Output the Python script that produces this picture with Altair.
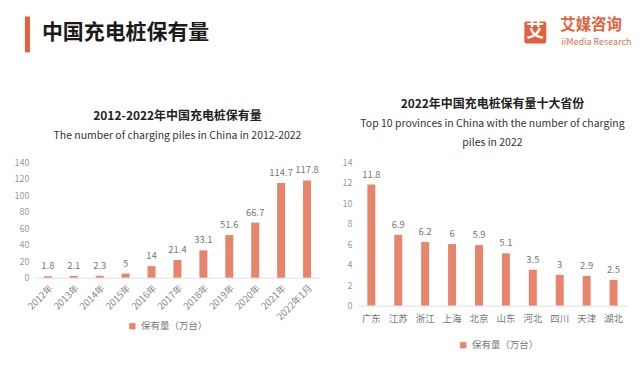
import altair as alt
import pandas as pd

FONT = "Noto Sans CJK SC"
BAR = "#E9846C"
ORANGE = "#E5603A"

# ---- data ----
years = ["2012年", "2013年", "2014年", "2015年", "2016年", "2017年",
         "2018年", "2019年", "2020年", "2021年", "2022年1月"]
year_values = [1.8, 2.1, 2.3, 5, 14, 21.4, 33.1, 51.6, 66.7, 114.7, 117.8]

provinces = ["广东", "江苏", "浙江", "上海", "北京", "山东", "河北", "四川", "天津", "湖北"]
province_values = [11.8, 6.9, 6.2, 6, 5.9, 5.1, 3.5, 3, 2.9, 2.5]

series_name = "保有量（万台）"
left_ticks = [0, 20, 40, 60, 80, 100, 120, 140]
right_ticks = [0, 2, 4, 6, 8, 10, 12, 14]

header_title = "中国充电桩保有量"
logo_char = "艾"
logo_cn_text = "艾媒咨询"
logo_en_text = "iiMedia Research"
left_title = "2012-2022年中国充电桩保有量"
left_subtitle = "The number of charging piles in China in 2012-2022"
right_title = "2022年中国充电桩保有量十大省份"
right_subtitle = ["Top 10 provinces in China with the number of charging", "piles in 2022"]


def text_layer(label, x, y, **kw):
    return alt.Chart(pd.DataFrame({"t": [label]})).mark_text(font=FONT, **kw).encode(
        x=alt.value(x), y=alt.value(y), text="t:N")


# ---- header (positions relative to the left plot's left edge) ----
hdr = alt.Chart(pd.DataFrame({"k": [0]}))
hdr_bar = hdr.mark_rect(color=ORANGE).encode(
    x=alt.value(-10), x2=alt.value(-5), y=alt.value(8), y2=alt.value(44))
logo_sq = hdr.mark_rect(color=ORANGE, cornerRadius=2).encode(
    x=alt.value(491), x2=alt.value(513), y=alt.value(13), y2=alt.value(35))
hdr_text = text_layer(header_title, 7, 25, align="left", baseline="middle", fontSize=21,
                      fontWeight="bold", color="#1a1a1a")
logo_ch = text_layer(logo_char, 502, 24, align="center", baseline="middle", fontSize=18,
                     fontWeight="bold", color="white")
logo_cn = text_layer(logo_cn_text, 527, 17, align="left", baseline="middle", fontSize=15.5,
                     fontWeight="bold", color=ORANGE)
logo_en = text_layer(logo_en_text, 528, 33.5, align="left", baseline="middle", fontSize=9,
                     color="#D8704F")
header = alt.layer(hdr_bar, logo_sq, hdr_text, logo_ch, logo_cn, logo_en).properties(
    width=590, height=80)

# ---- left chart ----
df1 = pd.DataFrame({"year": years, "value": year_values, "series": series_name})
b1 = alt.Chart(df1)
x1 = alt.X("year:N", sort=years, title=None,
           scale=alt.Scale(paddingInner=0, paddingOuter=0),
           axis=alt.Axis(labelAngle=-45, labelFont=FONT, labelFontSize=9.5, labelColor="#888",
                         ticks=False, domainColor="#e0e0e0", labelPadding=5))
y1 = alt.Y("value:Q", title=None, scale=alt.Scale(domain=[0, 140]),
           axis=alt.Axis(values=left_ticks, grid=False, domain=False, ticks=False,
                         labelFont=FONT, labelFontSize=9, labelColor="#999",
                         labelPadding=6, minExtent=27))
bars1 = b1.mark_bar(size=8).encode(
    x=x1, y=y1,
    color=alt.Color("series:N", scale=alt.Scale(range=[BAR]),
                    legend=alt.Legend(orient="none", legendX=93, legendY=160, title=None,
                                      direction="horizontal", symbolType="square",
                                      symbolSize=40, symbolStrokeWidth=0, padding=0,
                                      labelFont=FONT, labelFontSize=9.5, labelColor="#777")))
text1 = b1.mark_text(dy=-10, font=FONT, fontSize=9.5, color="#777").encode(
    x=x1, y=y1, text=alt.Text("value:Q", format="~g"))
left = alt.layer(bars1, text1).properties(
    width=286, height=116,
    title=alt.TitleParams(text=left_title, subtitle=left_subtitle, font=FONT, fontSize=12,
                          fontWeight="bold", color="#222", subtitleFont=FONT,
                          subtitleFontSize=10.5, subtitleColor="#333", subtitlePadding=8,
                          offset=16, anchor="middle"))

# ---- right chart ----
df2 = pd.DataFrame({"prov": provinces, "value": province_values, "series": series_name})
b2 = alt.Chart(df2)
x2 = alt.X("prov:N", sort=provinces, title=None,
           scale=alt.Scale(paddingInner=0, paddingOuter=0),
           axis=alt.Axis(labelAngle=0, labelFont=FONT, labelFontSize=9.5, labelColor="#777",
                         ticks=False, domainColor="#e0e0e0", labelPadding=8))
y2 = alt.Y("value:Q", title=None, scale=alt.Scale(domain=[0, 14]),
           axis=alt.Axis(values=right_ticks, grid=False, domain=False, ticks=False,
                         labelFont=FONT, labelFontSize=9, labelColor="#999", labelPadding=6))
bars2 = b2.mark_bar(size=8).encode(
    x=x2, y=y2,
    color=alt.Color("series:N", scale=alt.Scale(range=[BAR]),
                    legend=alt.Legend(orient="none", legendX=101, legendY=179, title=None,
                                      direction="horizontal", symbolType="square",
                                      symbolSize=40, symbolStrokeWidth=0, padding=0,
                                      labelFont=FONT, labelFontSize=9.5, labelColor="#777")))
text2 = b2.mark_text(dy=-10, font=FONT, fontSize=9.5, color="#777").encode(
    x=x2, y=y2, text=alt.Text("value:Q", format="~g"))
right = alt.layer(bars2, text2).properties(
    width=270, height=144,
    title=alt.TitleParams(text=right_title, subtitle=right_subtitle, font=FONT, fontSize=12,
                          fontWeight="bold", color="#222", subtitleFont=FONT,
                          subtitleFontSize=10.5, subtitleColor="#333", subtitlePadding=8,
                          subtitleLineHeight=19, offset=9, anchor="middle"))

body = alt.hconcat(left, right, spacing=38, bounds="flush").resolve_scale(color="independent")

chart = alt.vconcat(header, body, spacing=9).properties(
    padding={"left": 0, "top": 0, "right": 0, "bottom": 0},
    background="white",
).configure_view(strokeWidth=0, stroke="transparent")

chart.save("out.html", embed_options={"renderer": "svg", "actions": False})
